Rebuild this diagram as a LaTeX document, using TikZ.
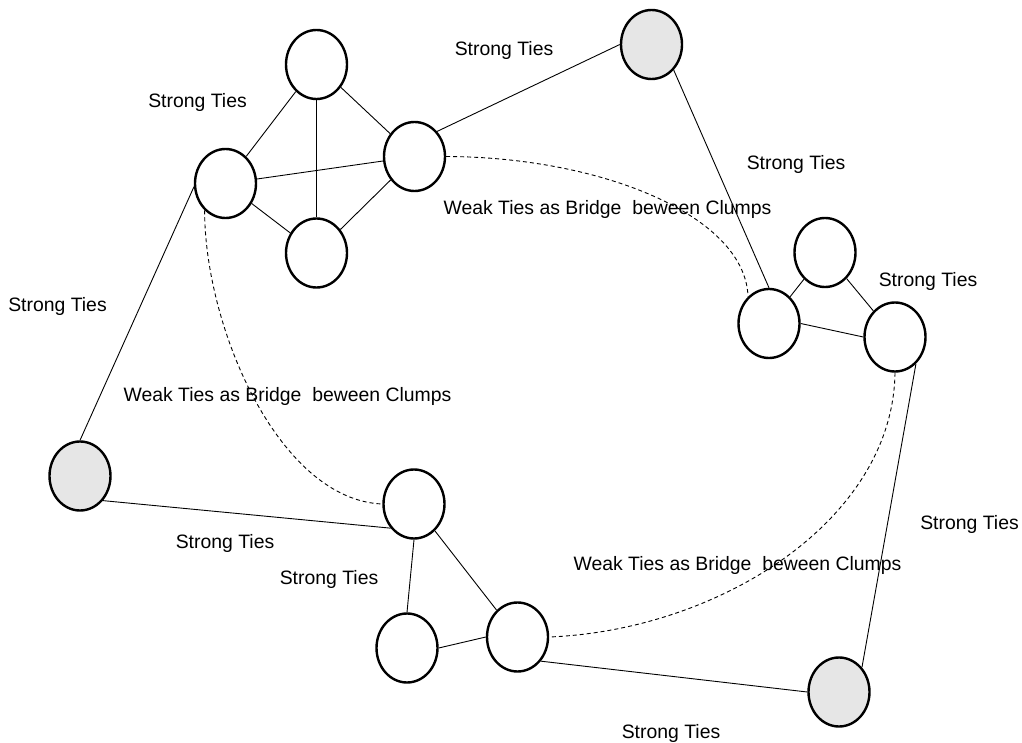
\documentclass[tikz,border=0pt]{standalone}
\usepackage{fontspec}
\setmainfont{Liberation Sans}
\usetikzlibrary{shapes.geometric}
\definecolor{outerfill}{HTML}{E6E6E6}
\begin{document}
\begin{tikzpicture}[x=1pt,y=-1pt,
  person/.style={draw, ellipse, line width=2.4pt, minimum width=61pt, minimum height=69pt, inner sep=0pt, fill=white},
  outsider/.style={person, fill=outerfill},
  tie/.style={line width=0.9pt},
  weak/.style={line width=0.9pt, dash pattern=on 4pt off 3pt},
  lbl/.style={anchor=base, inner sep=0pt, font=\fontsize{19.4}{23}\selectfont}]
\useasboundingbox[fill=white] (0,0) rectangle (1022,743);
% top clump
\node[person] (A) at (316.5,64.5) {};
\node[person] (B) at (225.5,183.5) {};
\node[person] (C) at (414.5,156.5) {};
\node[person] (D) at (316.5,253) {};
% right clump
\node[person] (E) at (769,323.5) {};
\node[person] (F) at (825,252.5) {};
\node[person] (H) at (895,337) {};
% bottom clump
\node[person] (I) at (414,504) {};
\node[person] (J) at (407,648) {};
\node[person] (K) at (517.5,637) {};
% outsiders
\node[outsider] (G1) at (651.5,44.5) {};
\node[outsider] (G2) at (80,476) {};
\node[outsider] (G3) at (839,692) {};
% strong ties
\draw[tie] (A) -- (B);
\draw[tie] (A) -- (D);
\draw[tie] (A) -- (C);
\draw[tie] (B) -- (C);
\draw[tie] (B) -- (D);
\draw[tie] (D) -- (C);
\draw[tie] (C.48) -- (G1.west);
\draw[tie] (G1.-49) -- (E.north);
\draw[tie] (B.186) -- (G2.north);
\draw[tie] (G2.-47) -- (I.226);
\draw[tie] (I.south) -- (J.north);
\draw[tie] (I) -- (K);
\draw[tie] (J.east) -- (K.west);
\draw[tie] (K.-46) -- (G3.west);
\draw[tie] (H.-52) -- (G3.47);
\draw[tie] (E) -- (F);
\draw[tie] (F) -- (H);
\draw[tie] (E.east) -- (H.west);
% weak ties
\draw[weak] (C.east) .. controls (600,157) and (745,215) .. (E.128);
\draw[weak] (B.232) .. controls (205,330) and (280,500) .. (I.west);
\draw[weak] (H.south) .. controls (893,520) and (720,630) .. (K.east);
% labels
\node[lbl] (l1) at (197.5,107.5) {Strong Ties};
\node[lbl] (l2) at (504,55.5) {Strong Ties};
\node[lbl] (l3) at (796,170) {Strong Ties};
\node[lbl] (l4) at (607.5,215) {Weak Ties as Bridge\ \ beween Clumps};
\node[lbl] (l5) at (928,286) {Strong Ties};
\node[lbl] (l6) at (57.5,311.5) {Strong Ties};
\node[lbl] (l7) at (287.5,401.5) {Weak Ties as Bridge\ \ beween Clumps};
\node[lbl] (l8) at (225,548) {Strong Ties};
\node[lbl] (l9) at (329,584) {Strong Ties};
\node[lbl] (l10) at (737.5,570.5) {Weak Ties as Bridge\ \ beween Clumps};
\node[lbl] (l11) at (969.5,529) {Strong Ties};
\node[lbl] (l12) at (671,738) {Strong Ties};
\end{tikzpicture}
\end{document}
